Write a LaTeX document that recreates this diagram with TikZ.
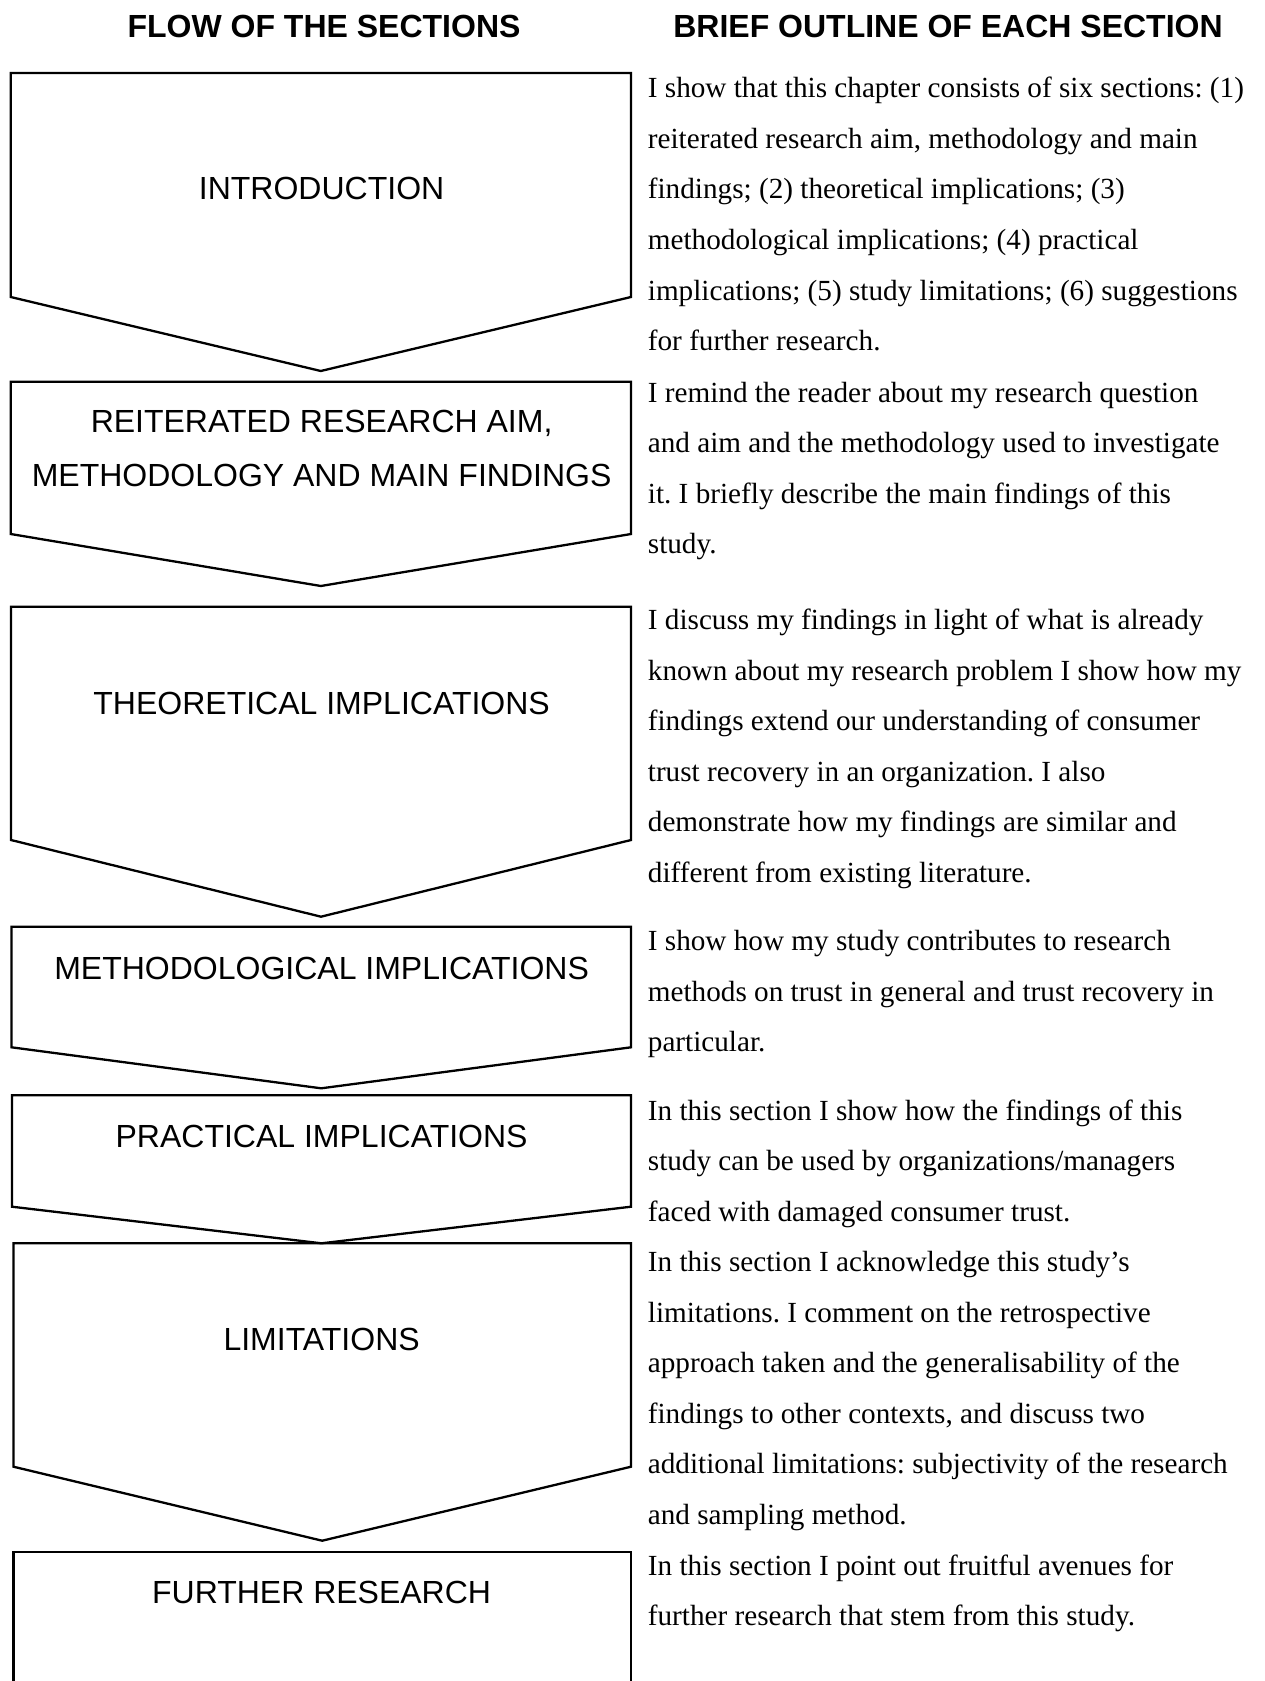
\documentclass[tikz,border=0pt]{standalone}
\usepackage{fontspec}
\setmainfont{Liberation Serif}
\newfontfamily\sansf{Liberation Sans}
\newcommand\plines[1]{\vtop{\baselineskip=25.3pt #1}}
\frenchspacing
\begin{document}
\begin{tikzpicture}[x=0.5pt,y=-0.5pt,
  chev/.style={draw=black,line width=1.15pt,line join=miter},
  lab/.style={anchor=base,inner sep=0pt,font=\sansf\fontsize{16}{19}\selectfont},
  head/.style={anchor=base,inner sep=0pt,font=\sansf\bfseries\fontsize{16}{19}\selectfont},
  para/.style={anchor=base west,inner sep=0pt,font=\fontsize{14.6}{25.3}\selectfont}]
\useasboundingbox[fill=white] (0,0) rectangle (1264,1681);

% headers
\node[head] (h1) at (324,37.2) {FLOW OF THE SECTIONS};
\node[head] (h2) at (948,37.2) {BRIEF OUTLINE OF EACH SECTION};

% chevron shapes
\draw[chev] (10.7,297) -- (10.7,73) -- (631,73) -- (631,297) -- (320.8,371) -- cycle;
\draw[chev] (10.7,534) -- (10.7,381.7) -- (631,381.7) -- (631,534) -- (320.8,586) -- cycle;
\draw[chev] (11,840) -- (11,606.7) -- (631,606.7) -- (631,840) -- (321,916.7) -- cycle;
\draw[chev] (11.5,1047.3) -- (11.5,926.7) -- (631,926.7) -- (631,1047.3) -- (321.2,1088.3) -- cycle;
\draw[chev] (12,1206.7) -- (12,1095.3) -- (631,1095.3) -- (631,1206.7) -- (321.5,1243.3) -- cycle;
\draw[chev] (13.5,1466.7) -- (13.5,1243.3) -- (631,1243.3) -- (631,1466.7) -- (322.2,1540.7) -- cycle;
\draw[chev] (13.5,1681) -- (13.5,1551.7) -- (631,1551.7) -- (631,1681);

% box labels
\node[lab] (l1) at (321.6,199) {INTRODUCTION};
\node[lab] (l2a) at (321.6,432.8) {REITERATED RESEARCH AIM,};
\node[lab] (l2b) at (321.6,486.5) {METHODOLOGY AND MAIN FINDINGS};
\node[lab] (l3) at (321.6,714.8) {THEORETICAL IMPLICATIONS};
\node[lab] (l4) at (321.6,979.5) {METHODOLOGICAL IMPLICATIONS};
\node[lab] (l5) at (321.6,1147.9) {PRACTICAL IMPLICATIONS};
\node[lab] (l6) at (321.6,1350.5) {LIMITATIONS};
\node[lab] (l7) at (321.6,1603.5) {FURTHER RESEARCH};

% outline paragraphs
\node[para] (p1) at (647.5,97.6) {\plines{%
\hbox{I show that this chapter consists of six sections: (1)}
\hbox{reiterated research aim, methodology and main}
\hbox{findings; (2) theoretical implications; (3)}
\hbox{methodological implications; (4) practical}
\hbox{implications; (5) study limitations; (6) suggestions}
\hbox{for further research.}}};
\node[para] (p2) at (647.5,402) {\plines{%
\hbox{I remind the reader about my research question}
\hbox{and aim and the methodology used to investigate}
\hbox{it. I briefly describe the main findings of this}
\hbox{study.}}};
\node[para] (p3) at (647.5,629.5) {\plines{%
\hbox{I discuss my findings in light of what is already}
\hbox{known about my research problem I show how my}
\hbox{findings extend our understanding of consumer}
\hbox{trust recovery in an organization. I also}
\hbox{demonstrate how my findings are similar and}
\hbox{different from existing literature.}}};
\node[para] (p4) at (647.5,950.5) {\plines{%
\hbox{I show how my study contributes to research}
\hbox{methods on trust in general and trust recovery in}
\hbox{particular.}}};
\node[para] (p5) at (647.5,1120) {\plines{%
\hbox{In this section I show how the findings of this}
\hbox{study can be used by organizations/managers}
\hbox{faced with damaged consumer trust.}}};
\node[para] (p6) at (647.5,1271.5) {\plines{%
\hbox{In this section I acknowledge this study’s}
\hbox{limitations. I comment on the retrospective}
\hbox{approach taken and the generalisability of the}
\hbox{findings to other contexts, and discuss two}
\hbox{additional limitations: subjectivity of the research}
\hbox{and sampling method.}}};
\node[para] (p7) at (647.5,1575) {\plines{%
\hbox{In this section I point out fruitful avenues for}
\hbox{further research that stem from this study.}}};
\end{tikzpicture}
\end{document}
